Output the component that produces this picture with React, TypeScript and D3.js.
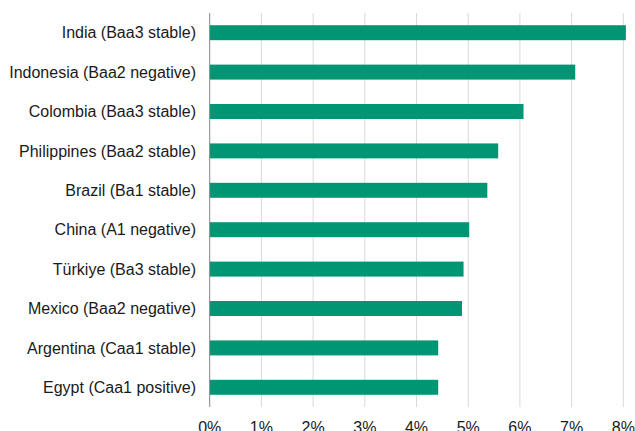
import React from "react";
import * as d3 from "d3";

const categories = [
  "India (Baa3 stable)",
  "Indonesia (Baa2 negative)",
  "Colombia (Baa3 stable)",
  "Philippines (Baa2 stable)",
  "Brazil (Ba1 stable)",
  "China (A1 negative)",
  "Türkiye (Ba3 stable)",
  "Mexico (Baa2 negative)",
  "Argentina (Caa1 stable)",
  "Egypt (Caa1 positive)",
];
const values = [8.05, 7.07, 6.07, 5.58, 5.37, 5.02, 4.91, 4.88, 4.42, 4.42];
const ticks = [0, 1, 2, 3, 4, 5, 6, 7, 8];

const W = 635, H = 431;
const left = 209.7, right = 623.3, top = 13, bottom = 407;
const FONT = "'Liberation Sans', Arial, sans-serif";

export default function App() {
  const x = d3.scaleLinear().domain([0, 8]).range([left, right]);
  const y = d3.scaleBand().domain(categories).range([top, bottom]).paddingInner(0.62).paddingOuter(0.31);
  return (
    <svg width={W} height={H} style={{ position: "absolute", left: 0, top: 0 }}>
      {ticks.slice(1).map((t) => (
        <line key={t} x1={x(t)} x2={x(t)} y1={top} y2={bottom} stroke="#d9d9d9" strokeWidth={1} />
      ))}
      {categories.map((c, i) => (
        <rect key={c} x={x(0)} y={y(c)!} width={x(values[i]) - x(0)} height={y.bandwidth()} fill="#009673" />
      ))}
      <line x1={left} x2={left} y1={top} y2={bottom} stroke="#868686" strokeWidth={1} />
      {categories.map((c) => (
        <text key={c} x={196} y={y(c)! + y.bandwidth() / 2} dy="0.35em" textAnchor="end" fontFamily={FONT} fontSize={16} fill="#1a1a1a">
          {c}
        </text>
      ))}
      {ticks.map((t) => (
        <text key={t} x={x(t)} y={433} textAnchor="middle" fontFamily={FONT} fontSize={16} fill="#1a1a1a">
          {t + "%"}
        </text>
      ))}
    </svg>
  );
}
